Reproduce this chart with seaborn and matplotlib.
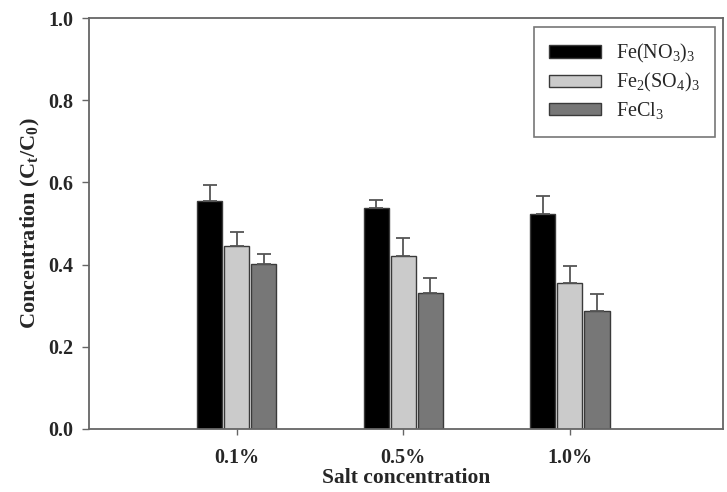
import numpy as np
import pandas as pd
import seaborn as sns
import matplotlib
matplotlib.use("Agg")
from matplotlib import pyplot as plt
from matplotlib.patches import Patch

# data
salt_levels = ["0.1%", "0.5%", "1.0%"]
salts = ["Fe(NO$_{3}$)$_{3}$", "Fe$_{2}$(SO$_{4}$)$_{3}$", "FeCl$_{3}$"]
fe_no3 = [0.554, 0.538, 0.523]
fe2_so4 = [0.445, 0.421, 0.355]
fecl3 = [0.401, 0.332, 0.288]
err_no3 = [0.040, 0.019, 0.043]
err_so4 = [0.034, 0.043, 0.041]
err_cl = [0.026, 0.035, 0.041]
colors = ["#000000", "#cbcbcb", "#777777"]

sns.set_style("ticks")
plt.rcParams["font.family"] = ["Liberation Serif", "DejaVu Serif"]
plt.rcParams["mathtext.fontset"] = "custom"
plt.rcParams["mathtext.rm"] = "Liberation Serif"
plt.rcParams["mathtext.bf"] = "Liberation Serif:bold"

values = [fe_no3, fe2_so4, fecl3]
errors = [err_no3, err_so4, err_cl]
df = pd.DataFrame({
    "salt": np.repeat(salts, len(salt_levels)),
    "level": salt_levels * len(salts),
    "value": np.concatenate(values),
})

fig = plt.figure(figsize=(7.27, 4.92), dpi=100)
ax = fig.add_axes([89 / 727, 1 - 429 / 492, (723 - 89) / 727, (429 - 18) / 492])

sns.barplot(data=df, x="level", y="value", hue="salt", hue_order=salts,
            palette=colors, width=0.487, gap=0.06, edgecolor="#3a3a3a",
            linewidth=1.0, errorbar=None, legend=False, ax=ax)

# upper error bars only
for cont, err in zip(ax.containers, errors):
    xs = [p.get_x() + p.get_width() / 2 for p in cont]
    ys = [p.get_height() for p in cont]
    ax.errorbar(xs, ys, yerr=[np.zeros(len(err)), err], fmt="none",
                ecolor="#555555", elinewidth=1.3, capsize=5, capthick=1.3)

ax.set_ylim(0, 1.0)
ax.set_xlim(-0.887, 2.92)
ax.set_yticks(np.arange(0, 1.01, 0.2))
ax.set_yticklabels([f"{v:.1f}" for v in np.arange(0, 1.01, 0.2)],
                   fontsize=14.5, fontweight="bold")
ax.set_xticks(range(len(salt_levels)))
ax.set_xticklabels(salt_levels, fontsize=14.5, fontweight="bold")
ax.tick_params(axis="y", length=5, width=1, color="#666666", pad=6)
ax.tick_params(axis="x", length=4, width=1, color="#666666", pad=10)
for s in ax.spines.values():
    s.set_visible(True)
    s.set_color("#666666")
    s.set_linewidth(1.3)

ax.set_xlabel("Salt concentration", fontsize=15.5, fontweight="bold", labelpad=0)
ax.set_ylabel("Concentration (C$_{\\mathbf{t}}$/C$_{\\mathbf{0}}$)",
              fontsize=16, fontweight="bold", labelpad=5)

handles = [Patch(facecolor=c, edgecolor="#3a3a3a", linewidth=1) for c in colors]
leg = ax.legend(handles, salts, loc="upper right", bbox_to_anchor=(0.9875, 0.978),
                fontsize=14.5, frameon=True, fancybox=False, edgecolor="#555555",
                handlelength=2.6, handleheight=0.55, handletextpad=0.75,
                labelspacing=0.3, borderpad=0.75, borderaxespad=0)
leg.get_frame().set_linewidth(1.2)

fig.savefig("out.png", dpi=100)
